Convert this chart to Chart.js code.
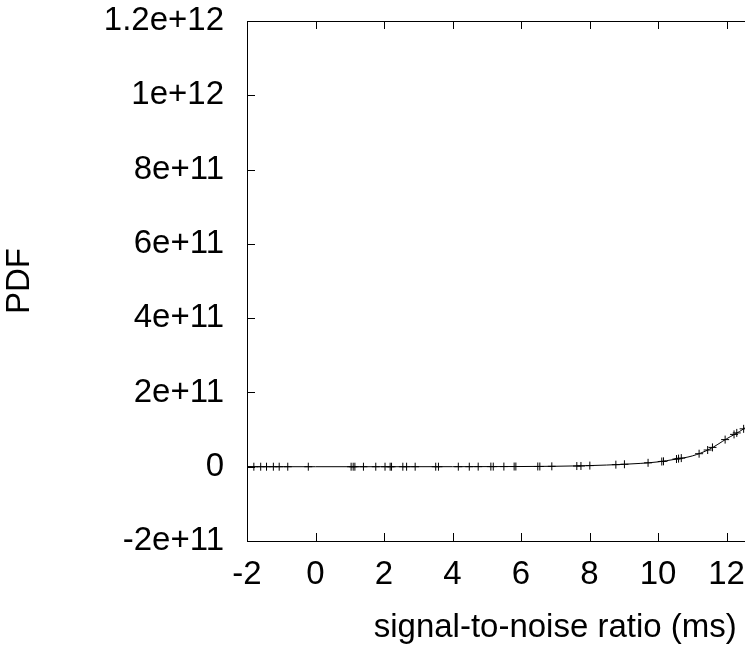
<!DOCTYPE html>
<html>
<head>
<meta charset="utf-8">
<script src="https://cdn.jsdelivr.net/npm/chart.js@4"></script>
<style>
  html, body { margin: 0; padding: 0; background: #fff; overflow: hidden; }
  #wrap { width: 900px; height: 648px; }
</style>
</head>
<body>
<div id="wrap"><canvas id="pdfChart" width="900" height="648"></canvas></div>
<script>
// fitted curve
const curveX = [-2, 0, 2, 4, 6, 7, 7.5, 8, 8.5, 9, 9.5, 10, 10.5, 11, 11.5, 12, 12.5, 13];
const curveY = [0, 0, 0, 1e8, 5e8, 1.2e9, 2e9, 3e9, 4.5e9, 6.5e9, 9e9, 1.3e10, 2.0e10, 2.9e10, 4.7e10, 7.5e10, 1.02e11, 1.4e11];

// sample points (+ markers)
const pointX = [-1.99, -1.80, -1.60, -1.43, -1.23, -1.06, -0.81, -0.21, 1.04, 1.10, 1.15, 1.40, 1.76, 2.03,
    2.18, 2.22, 2.55, 2.66, 2.91, 3.51, 3.59, 4.17, 4.49, 4.75, 5.12, 5.19, 5.50, 5.80, 5.85, 6.49, 6.55,
    6.90, 7.63, 7.75, 8.01, 8.77, 9.02, 9.71, 10.11, 10.16, 10.54, 10.60, 10.68, 11.20, 11.45, 11.59,
    11.96, 12.22, 12.30, 12.50];
const pointY = [0, 0, 0, 0, 0, 0, 0, 0, 0, 0, 0, 0, 0, 0,
    0, 0, 0, 0, 0, 0, 0, 1e8, 1e8, 2e8, 3e8, 3e8, 4e8, 5e8, 5e8, 6e8, 6e8,
    1e9, 1.8e9, 2e9, 3e9, 5.5e9, 6.6e9, 1.05e10, 1.4e10, 1.45e10, 2.07e10, 2.18e10, 2.32e10, 3.5e10, 4.5e10, 5.2e10,
    7.3e10, 8.7e10, 9.1e10, 1.02e11];

const xTickValues = [-2, 0, 2, 4, 6, 8, 10, 12, 14, 16];
const xTickLabels = ["-2", "0", "2", "4", "6", "8", "10", "12", "14", "16"];
const yTickValues = [-2e11, 0, 2e11, 4e11, 6e11, 8e11, 1e12, 1.2e12];
const yTickLabels = ["-2e+11", "0", "2e+11", "4e+11", "6e+11", "8e+11", "1e+12", "1.2e+12"];

const FONT = { family: "'Liberation Sans', Arial, sans-serif", size: 33 };

// gnuplot style frame with inward ticks on all four sides
const frameTicks = {
    id: "frameTicks",
    afterDatasetsDraw(chart) {
        const { ctx, chartArea: a, scales: { x, y } } = chart;
        const len = 8;
        ctx.save();
        ctx.strokeStyle = "#000";
        ctx.lineWidth = 1;
        ctx.strokeRect(a.left + 0.5, a.top + 0.5, a.right - a.left, a.bottom - a.top);
        ctx.beginPath();
        xTickValues.forEach((v) => {
            const px = Math.round(x.getPixelForValue(v)) + 0.5;
            ctx.moveTo(px, a.bottom);
            ctx.lineTo(px, a.bottom - len);
            ctx.moveTo(px, a.top);
            ctx.lineTo(px, a.top + len);
        });
        yTickValues.forEach((v) => {
            const py = Math.round(y.getPixelForValue(v)) + 0.5;
            ctx.moveTo(a.left, py);
            ctx.lineTo(a.left + len, py);
            ctx.moveTo(a.right, py);
            ctx.lineTo(a.right - len, py);
        });
        ctx.stroke();
        ctx.restore();
    },
};

new Chart(document.getElementById("pdfChart"), {
    type: "scatter",
    data: {
        datasets: [
            {
                label: "fit",
                data: curveX.map((v, i) => ({ x: v, y: curveY[i] })),
                showLine: true,
                borderColor: "#000",
                borderWidth: 1,
                pointRadius: 0,
                cubicInterpolationMode: "monotone",
            },
            {
                label: "data",
                data: pointX.map((v, i) => ({ x: v, y: pointY[i] })),
                pointStyle: "cross",
                pointRadius: 4,
                borderColor: "#000",
                borderWidth: 1,
            },
        ],
    },
    options: {
        responsive: false,
        animation: false,
        events: [],
        layout: { padding: { left: 0, top: 21, right: 36.5, bottom: 0 } },
        plugins: { legend: { display: false }, tooltip: { enabled: false } },
        scales: {
            x: {
                type: "linear",
                min: -2,
                max: 16,
                afterBuildTicks: (s) => { s.ticks = xTickValues.map((v) => ({ value: v })); },
                afterFit: (s) => { s.height = 107; s.paddingLeft = 0; s.paddingRight = 0; },
                grid: { display: false, drawTicks: false },
                border: { display: false },
                ticks: {
                    font: FONT,
                    color: "#000",
                    padding: 14,
                    maxRotation: 0,
                    autoSkip: false,
                    callback: (v) => xTickLabels[xTickValues.indexOf(v)],
                },
                title: {
                    display: true,
                    text: "signal-to-noise ratio (ms)",
                    font: FONT,
                    color: "#000",
                    padding: { top: 3, bottom: 0 },
                },
            },
            y: {
                type: "linear",
                min: -2e11,
                max: 1.2e12,
                afterBuildTicks: (s) => { s.ticks = yTickValues.map((v) => ({ value: v })); },
                afterFit: (s) => { s.width = 247; s.paddingTop = 0; s.paddingBottom = 0; },
                grid: { display: false, drawTicks: false },
                border: { display: false },
                ticks: {
                    font: FONT,
                    color: "#000",
                    padding: 23,
                    autoSkip: false,
                    callback: (v) => yTickLabels[yTickValues.indexOf(v)],
                },
                title: {
                    display: true,
                    text: "PDF",
                    font: FONT,
                    color: "#000",
                    padding: { top: 0, bottom: 0 },
                },
            },
        },
    },
    plugins: [frameTicks],
});
</script>
</body>
</html>
